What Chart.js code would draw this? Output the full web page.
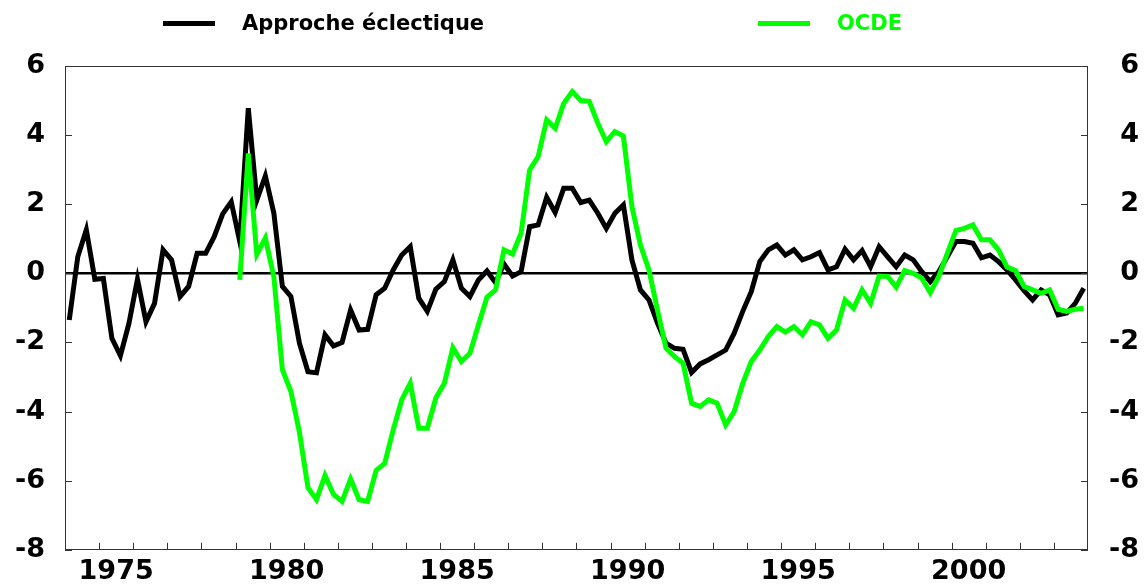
<!DOCTYPE html>
<html>
<head>
<meta charset="utf-8">
<script src="https://cdn.jsdelivr.net/npm/chart.js@4"></script>
<style>
  body { margin: 0; background: #fff; }
  #wrap { position: relative; width: 1146px; height: 586px; }
  .leg { position: absolute; top: 10px; font: bold 21px 'DejaVu Sans'; white-space: nowrap; }
  .leg span { display: inline-block; vertical-align: middle; }
  .leg .mark { width: 52px; height: 5px; margin-right: 27px; }
</style>
</head>
<body>
<div id="wrap">
  <canvas id="myChart"></canvas>
  <div class="leg" style="left:163px"><span class="mark" style="background:#000"></span><span style="color:#000">Approche éclectique</span></div>
  <div class="leg" style="left:758px"><span class="mark" style="background:#00ff00"></span><span style="color:#00ff00">OCDE</span></div>
</div>
<script>
// quarterly categories, 1974 T1 .. 2003 T4
const quarters = [];
for (let yr = 1974; yr <= 2003; yr++) {
  for (let q = 1; q <= 4; q++) quarters.push(yr + '-T' + q);
}
const yearLabels = ['1975', '1980', '1985', '1990', '1995', '2000'];
const yTicks = [-8, -6, -4, -2, 0, 2, 4, 6];

const eclectique = [
  -1.35, 0.48, 1.26, -0.17, -0.15, -1.88, -2.38, -1.45,
  -0.17, -1.40, -0.87, 0.68, 0.39, -0.67, -0.38, 0.58,
  0.58, 1.06, 1.72, 2.07, 0.92, 4.78, 2.12, 2.82,
  1.74, -0.38, -0.67, -2.02, -2.85, -2.88, -1.78, -2.10,
  -2.00, -1.06, -1.64, -1.62, -0.62, -0.43, 0.10, 0.53,
  0.77, -0.72, -1.10, -0.46, -0.24, 0.39, -0.43, -0.67,
  -0.19, 0.07, -0.27, 0.27, -0.08, 0.05, 1.35, 1.40,
  2.20, 1.76, 2.46, 2.46, 2.05, 2.12, 1.74, 1.30,
  1.74, 1.98, 0.39, -0.48, -0.77, -1.44, -2.02, -2.17,
  -2.20, -2.87, -2.62, -2.50, -2.36, -2.22, -1.73, -1.10,
  -0.53, 0.34, 0.68, 0.82, 0.53, 0.68, 0.39, 0.48,
  0.60, 0.10, 0.19, 0.70, 0.39, 0.66, 0.19, 0.77,
  0.48, 0.19, 0.53, 0.39, 0.05, -0.24, 0.05, 0.48,
  0.92, 0.92, 0.87, 0.45, 0.53, 0.34, 0.10, -0.19,
  -0.50, -0.77, -0.48, -0.62, -1.20, -1.15, -0.87, -0.43
];

const ocde = [
  null, null, null, null, null, null, null, null,
  null, null, null, null, null, null, null, null,
  null, null, null, null, -0.19, 3.47, 0.55, 1.02,
  -0.10, -2.79, -3.42, -4.60, -6.20, -6.55, -5.85, -6.40,
  -6.60, -5.95, -6.55, -6.60, -5.70, -5.50, -4.53, -3.66,
  -3.18, -4.48, -4.48, -3.61, -3.18, -2.15, -2.55, -2.31,
  -1.49, -0.69, -0.48, 0.68, 0.56, 1.16, 2.99, 3.38,
  4.44, 4.20, 4.92, 5.26, 5.00, 4.98, 4.34, 3.81,
  4.10, 3.97, 1.93, 0.82, 0.10, -1.06, -2.17, -2.41,
  -2.60, -3.76, -3.85, -3.66, -3.76, -4.39, -4.00, -3.18,
  -2.55, -2.22, -1.83, -1.54, -1.70, -1.54, -1.78, -1.40,
  -1.49, -1.88, -1.64, -0.77, -1.01, -0.48, -0.87, -0.08,
  -0.09, -0.40, 0.08, 0.00, -0.14, -0.56, -0.09, 0.58,
  1.24, 1.30, 1.40, 0.97, 0.97, 0.68, 0.18, 0.08,
  -0.38, -0.48, -0.58, -0.48, -1.04, -1.10, -1.04, -1.01
];

// frame around the plot and small inward tick marks
const frameTicks = {
  id: 'frameTicks',
  beforeDatasetsDraw(chart) {
    const { ctx, chartArea: a, scales: { x, y } } = chart;
    const step = x.getPixelForValue(1) - x.getPixelForValue(0);
    ctx.save();
    ctx.strokeStyle = '#333';
    ctx.lineWidth = 1;
    ctx.strokeRect(Math.round(a.left) + 0.5, Math.round(a.top) + 0.5, Math.round(a.width) - 1, Math.round(a.height) - 1);
    ctx.beginPath();
    quarters.forEach((q, i) => {
      if (i > 0 && i % 4 === 0) {
        const px = Math.round(x.getPixelForValue(i) - step / 2) + 0.5;
        ctx.moveTo(px, a.bottom);
        ctx.lineTo(px, a.bottom - 7);
      }
    });
    yTicks.forEach(v => {
      const py = Math.round(y.getPixelForValue(v)) + 0.5;
      ctx.moveTo(a.left, py);
      ctx.lineTo(a.left + 7, py);
      ctx.moveTo(a.right, py);
      ctx.lineTo(a.right - 7, py);
    });
    ctx.stroke();
    ctx.restore();
  }
};

const tickFont = { family: "'DejaVu Sans'", weight: 'bold', size: 27 };

new Chart('myChart', {
  type: 'line',
  data: {
    labels: quarters,
    datasets: [{
      label: 'Approche éclectique',
      data: eclectique,
      borderColor: '#000000',
      borderWidth: 5,
      pointRadius: 0,
      fill: false,
      order: 1
    },
    {
      label: 'OCDE',
      data: ocde,
      borderColor: '#00ff00',
      borderWidth: 5,
      pointRadius: 0,
      fill: false,
      order: 0
    }]
  },
  options: {
    responsive: true,
    maintainAspectRatio: false,
    animation: false,
    layout: { padding: { top: 66, right: 7, bottom: 0, left: 0 } },
    plugins: { legend: { display: false }, tooltip: { enabled: false } },
    elements: { line: { tension: 0, borderJoinStyle: 'miter' } },
    scales: {
      x: {
        type: 'category',
        offset: true,
        grid: { display: false },
        border: { display: false },
        afterFit: s => { s.height = 36; },
        ticks: {
          autoSkip: false,
          maxRotation: 0,
          padding: -2,
          labelOffset: 4.26,
          color: '#000',
          font: tickFont,
          callback: (value, index) => {
            const parts = quarters[index].split('-');
            return parts[1] === 'T2' && yearLabels.includes(parts[0]) ? parts[0] : '';
          }
        }
      },
      y: {
        position: 'left',
        min: -8,
        max: 6,
        afterFit: s => { s.width = 65; },
        border: { display: false },
        grid: {
          drawTicks: false,
          color: c => c.tick && c.tick.value === 0 ? '#000' : 'rgba(0,0,0,0)',
          lineWidth: 2.5
        },
        ticks: { stepSize: 2, padding: 20, color: '#000', font: tickFont }
      },
      y2: {
        position: 'right',
        min: -8,
        max: 6,
        afterFit: s => { s.width = 51; },
        border: { display: false },
        grid: { display: false },
        ticks: { stepSize: 2, crossAlign: 'far', color: '#000', font: tickFont }
      }
    }
  },
  plugins: [frameTicks]
});
</script>
</body>
</html>
